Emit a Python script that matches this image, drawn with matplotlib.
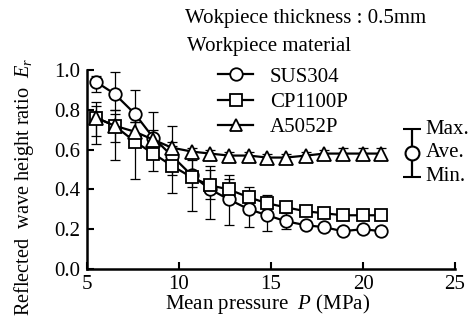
import matplotlib
matplotlib.use("Agg")
import matplotlib.pyplot as plt
from matplotlib.lines import Line2D

plt.rcParams['font.family'] = ['Liberation Serif', 'DejaVu Serif']
plt.rcParams['mathtext.fontset'] = 'custom'
plt.rcParams['mathtext.rm'] = 'Liberation Serif'
plt.rcParams['mathtext.it'] = 'Liberation Serif:italic'

# ---- data ----
pressure = [5.5, 6.5, 7.6, 8.6, 9.6, 10.7, 11.7, 12.7, 13.8, 14.8, 15.8, 16.9, 17.9, 18.9, 20.0, 21.0]

sus304_ave = [0.94, 0.88, 0.78, 0.66, 0.57, 0.47, 0.40, 0.35, 0.30, 0.27, 0.24, 0.22, 0.21, 0.19, 0.20, 0.19]
sus304_min = [0.89, 0.80, 0.68, 0.56, 0.47, 0.41, 0.25, 0.22, 0.21, 0.19, 0.20, 0.20, 0.20, 0.18, 0.19, 0.18]
sus304_max = [0.97, 0.99, 0.90, 0.79, 0.72, 0.55, 0.52, 0.45, 0.38, 0.35, 0.28, 0.24, 0.22, 0.20, 0.21, 0.20]

cp1100p_ave = [0.76, 0.72, 0.64, 0.58, 0.52, 0.46, 0.42, 0.40, 0.36, 0.33, 0.31, 0.29, 0.28, 0.27, 0.27, 0.27]
cp1100p_min = [0.67, 0.55, 0.45, 0.49, 0.38, 0.29, 0.35, 0.35, 0.33, 0.30, 0.29, 0.28, 0.27, 0.26, 0.26, 0.26]
cp1100p_max = [0.84, 0.78, 0.74, 0.68, 0.62, 0.56, 0.50, 0.47, 0.41, 0.37, 0.33, 0.30, 0.29, 0.28, 0.28, 0.28]

a5052p_ave = [0.76, 0.72, 0.69, 0.65, 0.61, 0.59, 0.58, 0.57, 0.57, 0.56, 0.56, 0.57, 0.58, 0.58, 0.58, 0.58]
a5052p_min = [0.63, 0.64, 0.62, 0.60, 0.58, 0.57, 0.55, 0.55, 0.55, 0.54, 0.54, 0.55, 0.56, 0.56, 0.55, 0.56]
a5052p_max = [0.82, 0.80, 0.74, 0.70, 0.64, 0.61, 0.60, 0.59, 0.59, 0.58, 0.58, 0.59, 0.60, 0.61, 0.61, 0.61]

series_labels = ['SUS304', 'CP1100P', 'A5052P']
key_labels = ['Max.', 'Ave.', 'Min.']
x_ticks = [5, 10, 15, 20, 25]
y_ticks = [0.0, 0.2, 0.4, 0.6, 0.8, 1.0]

# ---- figure ----
fig = plt.figure(figsize=(4.70, 3.21), dpi=100)
W, H = 470, 321
ax = fig.add_axes([87 / W, 1 - 269 / H, (455 - 87) / W, (269 - 70) / H])
ax.patch.set_alpha(0)

FS = 15
series = [
    (sus304_ave, sus304_min, sus304_max, 'o'),
    (cp1100p_ave, cp1100p_min, cp1100p_max, 's'),
    (a5052p_ave, a5052p_min, a5052p_max, '^'),
]
handles = []
for (ave, lo, hi, mk), lab in zip(series, series_labels):
    yerr = [[a - l for a, l in zip(ave, lo)], [h - a for a, h in zip(ave, hi)]]
    ax.errorbar(pressure, ave, yerr=yerr, fmt='none', ecolor='black',
                elinewidth=0.9, capsize=3.5, capthick=0.9, zorder=2)
    ax.plot(pressure, ave, color='black', lw=1.6, marker=mk, ms=9 if mk != '^' else 9.5,
            mfc='white', mec='black', mew=1.3, zorder=3)
    handles.append(Line2D([], [], color='black', lw=1.6, marker=mk, ms=9,
                          mfc='white', mec='black', mew=1.3))

ax.set_xlim(5, 25)
ax.set_ylim(0, 1.0)
ax.set_xticks(x_ticks)
ax.set_yticks(y_ticks)
ax.set_yticklabels([f'{v:.1f}' for v in y_ticks])
ax.tick_params(direction='in', length=5, width=1.5, labelsize=FS, pad=5)
ax.tick_params(axis='x', pad=4)
for s in ['top', 'right']:
    ax.spines[s].set_visible(False)
for s in ['left', 'bottom']:
    ax.spines[s].set_linewidth(1.8)

# texts
fig.text(185 / W, 1 - 18 / H, 'Wokpiece thickness : 0.5mm', fontsize=FS,
         ha='left', va='center')
fig.text(187 / W, 1 - 47 / H, 'Workpiece material', fontsize=FS,
         ha='left', va='center')
fig.text(268 / W, 1 - 304 / H, r'Mean pressure  $P$ (MPa)', fontsize=FS,
         ha='center', va='center')
fig.text(24 / W, 1 - 187 / H, r'Reflected  wave height ratio  $E_r$', fontsize=14.6,
         ha='center', va='center', rotation=90)

leg = fig.legend(handles, series_labels, loc='upper left',
                 bbox_to_anchor=(218 / W, 1 - 67 / H), frameon=False,
                 fontsize=FS, handlelength=1.7, handletextpad=0.8,
                 labelspacing=0.28, borderpad=0, borderaxespad=0)

# Max / Ave / Min key
key_x, key_y, key_half = 22.65, 0.583, 0.12
ax.errorbar([key_x], [key_y], yerr=[[key_half], [key_half]], fmt='o', ms=10,
            mfc='white', mec='black', mew=1.5, ecolor='black', elinewidth=1.6,
            capsize=6.5, capthick=1.6, clip_on=False, zorder=4)
for lab, dy in zip(key_labels, [key_half, 0.0, -key_half]):
    ax.text(key_x + 0.75, key_y + dy, lab, fontsize=FS, ha='left', va='center',
            clip_on=False)

fig.savefig('out.png', dpi=100)
